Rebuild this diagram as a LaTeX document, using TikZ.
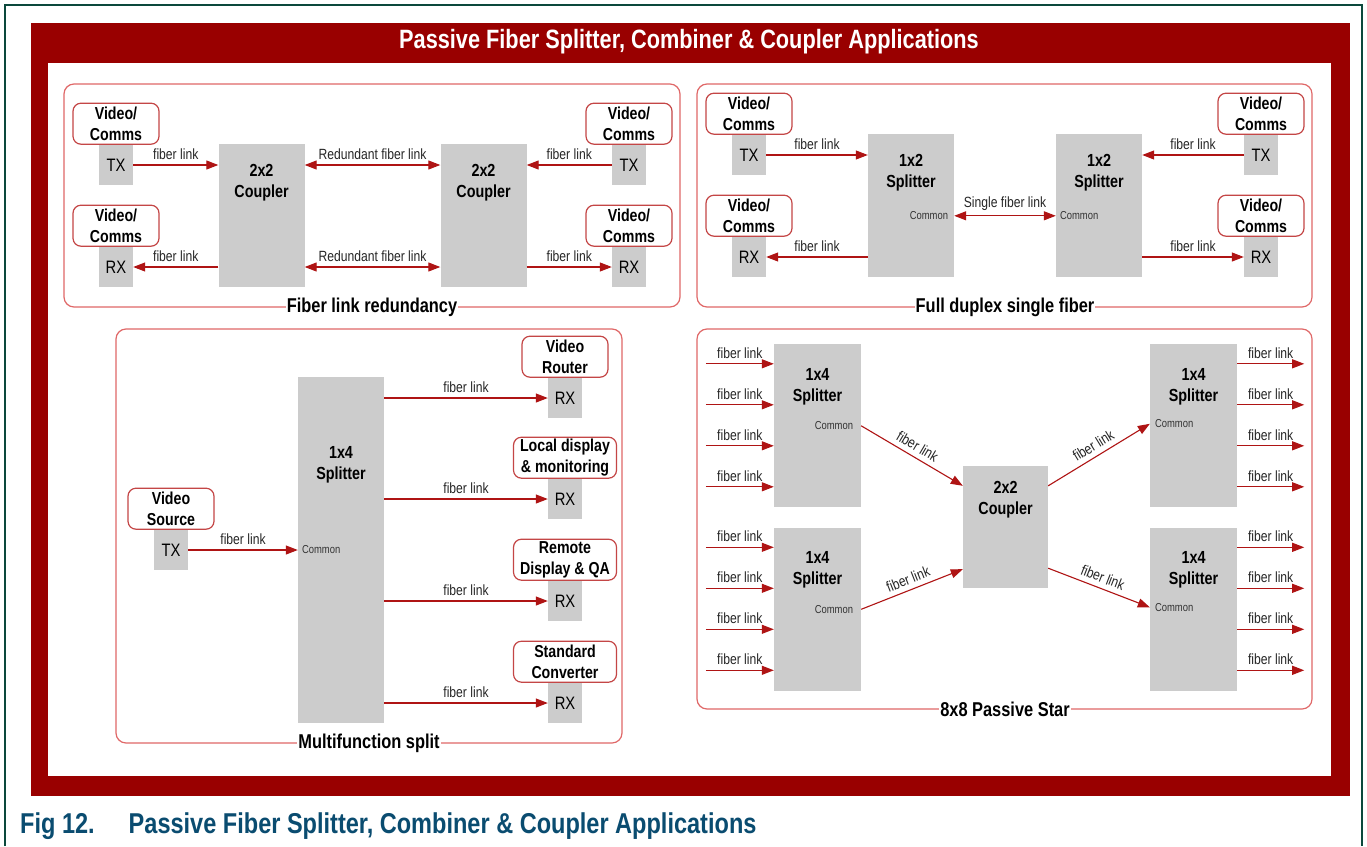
\documentclass[tikz,border=0pt]{standalone}
\usepackage{fontspec}
\setmainfont{Liberation Sans}[FakeStretch=0.82]
\usetikzlibrary{arrows.meta,positioning,calc}
\definecolor{cFrame}{RGB}{153,0,0}
\definecolor{cPanel}{RGB}{224,104,104}
\definecolor{cDev}{RGB}{196,70,70}
\definecolor{cLink}{RGB}{175,20,20}
\definecolor{cBlock}{RGB}{204,204,204}
\definecolor{cEdge}{RGB}{12,72,60}
\definecolor{cCaption}{RGB}{10,76,112}

\begin{document}
\begin{tikzpicture}[x=1pt,y=-1pt,
    >={Triangle[length=12pt,width=9pt]},
    block/.style={fill=cBlock,inner sep=0pt,minimum width=86pt},
    port/.style={fill=cBlock,inner sep=0pt,minimum width=34pt,minimum height=40pt,font=\fontsize{18}{20}\selectfont},
    dev/.style={draw=cDev,line width=1.2pt,fill=white,rounded corners=8pt,minimum width=86pt,minimum height=41pt,
      inner sep=2pt,align=center,font=\bfseries\fontsize{17.3}{20.5}\selectfont},
    blocktext/.style={inner sep=0pt,align=center,font=\bfseries\fontsize{17.5}{21}\selectfont},
    common/.style={inner sep=0pt,text=black!80,font=\fontsize{11.5}{13}\selectfont},
    link/.style={draw=cLink,line width=1.1pt},
    tag/.style={midway,above=3pt,inner sep=2pt,text=black!85,font=\fontsize{14.8}{16}\selectfont},
    panel/.style={draw=cPanel,line width=1.2pt,rounded corners=10pt},
    ptitle/.style={fill=white,inner sep=1pt,font=\bfseries\fontsize{20}{22}\selectfont}
  ]
  \useasboundingbox (0,0) rectangle (1367,846);

  % page edge and red frame
  \draw[cEdge,line width=1.2pt] (5,846) -- (5,5) -- (1362,5) -- (1362,846);
  \fill[cFrame] (31,23) rectangle (1350,796);
  \fill[white] (48,63) rectangle (1331,776);
  \node[text=white,font=\bfseries\fontsize{26.5}{28}\selectfont] (hdr) at (689,42)
    {Passive Fiber Splitter, Combiner \& Coupler Applications};

  % the four application panels
  \draw[panel] (64,84) rectangle (680,307);
  \draw[panel] (697,84) rectangle (1312,307);
  \draw[panel] (116,329) rectangle (622,743);
  \draw[panel] (697,329) rectangle (1312,709);

  %% fiber link redundancy
  \node[port] (txA) at (116,165) {TX};
  \node[port] (rxA) at (116,267) {RX};
  \node[port] (txB) at (629,165) {TX};
  \node[port] (rxB) at (629,267) {RX};
  \node[dev,above=0pt of txA] (vcA1) {Video/\\Comms};
  \node[dev,above=0pt of rxA] (vcA2) {Video/\\Comms};
  \node[dev,above=0pt of txB] (vcB1) {Video/\\Comms};
  \node[dev,above=0pt of rxB] (vcB2) {Video/\\Comms};
  \node[block,minimum height=143pt] (cpA) at (261.5,215.5) {};
  \node[block,minimum height=143pt] (cpB) at (483.5,215.5) {};
  \node[blocktext,below=20pt of cpA.north] (cpAt) {2x2\\Coupler};
  \node[blocktext,below=20pt of cpB.north] (cpBt) {2x2\\Coupler};
  \draw[link,->] (txA) -- (txA -| cpA.west) node[tag] {fiber link};
  \draw[link,->] (rxA -| cpA.west) -- (rxA) node[tag] {fiber link};
  \draw[link,<->] (txA -| cpA.east) -- (txA -| cpB.west) node[tag] {Redundant fiber link};
  \draw[link,<->] (rxA -| cpA.east) -- (rxA -| cpB.west) node[tag] {Redundant fiber link};
  \draw[link,->] (txB) -- (txB -| cpB.east) node[tag] {fiber link};
  \draw[link,->] (rxB -| cpB.east) -- (rxB) node[tag] {fiber link};
  \node[ptitle] (tRed) at (372,307) {Fiber link redundancy};

  %% full duplex single fiber
  \node[port] (txC) at (749,155) {TX};
  \node[port] (rxC) at (749,257) {RX};
  \node[port] (txD) at (1261,155) {TX};
  \node[port] (rxD) at (1261,257) {RX};
  \node[dev,above=0pt of txC] (vcC1) {Video/\\Comms};
  \node[dev,above=0pt of rxC] (vcC2) {Video/\\Comms};
  \node[dev,above=0pt of txD] (vcD1) {Video/\\Comms};
  \node[dev,above=0pt of rxD] (vcD2) {Video/\\Comms};
  \node[block,minimum height=143pt] (spA) at (911,205.5) {};
  \node[block,minimum height=143pt] (spB) at (1099,205.5) {};
  \node[blocktext,below=20pt of spA.north] (spAt) {1x2\\Splitter};
  \node[blocktext,below=20pt of spB.north] (spBt) {1x2\\Splitter};
  \node[common,anchor=east] (cmA) at ([shift={(-6,82)}]spA.north east) {Common};
  \node[common,anchor=west] (cmB) at ([shift={(4,82)}]spB.north west) {Common};
  \draw[link,->] (txC) -- (txC -| spA.west) node[tag] {fiber link};
  \draw[link,->] (rxC -| spA.west) -- (rxC) node[tag] {fiber link};
  \draw[link,<->] (cmA -| spA.east) -- (cmB -| spB.west) node[tag] {Single fiber link};
  \draw[link,->] (txD) -- (txD -| spB.east) node[tag] {fiber link};
  \draw[link,->] (rxD -| spB.east) -- (rxD) node[tag] {fiber link};
  \node[ptitle] (tDup) at (1005,307) {Full duplex single fiber};

  %% multifunction split
  \node[port] (txS) at (171,550) {TX};
  \node[dev,above=0pt of txS] (vSrc) {Video\\Source};
  \node[block,minimum height=346pt] (spM) at (341,550) {};
  \node[blocktext,below=69pt of spM.north] (spMt) {1x4\\Splitter};
  \node[common,anchor=west] (cmM) at ([xshift=4pt]txS -| spM.west) {Common};
  \draw[link,->] (txS) -- (txS -| spM.west) node[tag] {fiber link};
  \foreach \n/\y in {1/398,2/499,3/601,4/703} {
    \node[port] (rxM\n) at (565,\y) {RX};
    \draw[link,->] (rxM\n -| spM.east) -- (rxM\n) node[tag] {fiber link};
  }
  \node[dev,above=0pt of rxM1] (dRouter) {Video\\Router};
  \node[dev,minimum width=103pt,above=0pt of rxM2] (dLocal) {Local display\\\& monitoring};
  \node[dev,minimum width=103pt,above=0pt of rxM3] (dRemote) {Remote\\Display \& QA};
  \node[dev,minimum width=103pt,above=0pt of rxM4] (dConv) {Standard\\Converter};
  \node[ptitle] (tMul) at (369,743) {Multifunction split};

  %% 8x8 passive star
  \node[block,minimum width=87pt,minimum height=163pt] (spL1) at (817.5,425.5) {};
  \node[block,minimum width=87pt,minimum height=163pt] (spL2) at (817.5,609) {};
  \node[block,minimum width=87pt,minimum height=163pt] (spR1) at (1193.5,425.5) {};
  \node[block,minimum width=87pt,minimum height=163pt] (spR2) at (1193.5,609) {};
  \node[block,minimum width=85pt,minimum height=122pt] (cpS) at (1005.5,527) {};
  \foreach \s in {spL1,spL2,spR1,spR2}
    \node[blocktext,below=24pt of \s.north] (\s t) {1x4\\Splitter};
  \node[blocktext,below=15pt of cpS.north] (cpSt) {2x2\\Coupler};
  \node[common,anchor=east] (cmL1) at ([shift={(-8,82)}]spL1.north east) {Common};
  \node[common,anchor=east] (cmL2) at ([shift={(-8,82)}]spL2.north east) {Common};
  \node[common,anchor=west] (cmR1) at ([shift={(5,80)}]spR1.north west) {Common};
  \node[common,anchor=west] (cmR2) at ([shift={(5,80)}]spR2.north west) {Common};
  \draw[link,->] (cmL1 -| spL1.east) -- ([shift={(0,20)}]cpS.north west) node[tag,sloped] {fiber link};
  \draw[link,->] (cmL2 -| spL2.east) -- ([shift={(0,-19)}]cpS.south west) node[tag,sloped] {fiber link};
  \draw[link,->] ([shift={(0,20)}]cpS.north east) -- (cmR1 -| spR1.west) node[tag,sloped] {fiber link};
  \draw[link,->] ([shift={(0,-20)}]cpS.south east) -- (cmR2 -| spR2.west) node[tag,sloped] {fiber link};
  % fan-in and fan-out fibers
  \foreach \s in {spL1,spL2}
    \foreach \k in {0,...,3} {
      \coordinate (\s-in\k) at ([shift={(-68,20+41*\k)}]\s.north west);
      \draw[link,->] (\s-in\k) -- ([shift={(0,20+41*\k)}]\s.north west) node[tag] {fiber link};
    }
  \foreach \s in {spR1,spR2}
    \foreach \k in {0,...,3} {
      \coordinate (\s-out\k) at ([shift={(67,20+41*\k)}]\s.north east);
      \draw[link,->] ([shift={(0,20+41*\k)}]\s.north east) -- (\s-out\k) node[tag] {fiber link};
    }
  \node[ptitle] (tStar) at (1005,709) {8x8 Passive Star};

  % figure caption
  \node[anchor=west,inner sep=0pt,text=cCaption,font=\bfseries\fontsize{28.7}{30}\selectfont] (cap) at (20,826)
    {Fig 12.\hspace{34pt}Passive Fiber Splitter, Combiner \& Coupler Applications};
\end{tikzpicture}
\end{document}
